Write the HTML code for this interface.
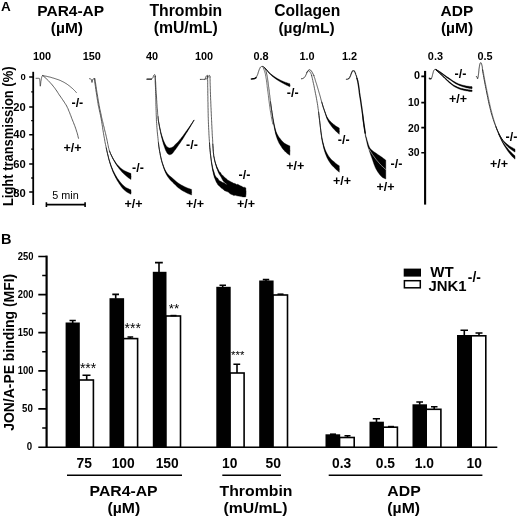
<!DOCTYPE html>
<html>
<head>
<meta charset="utf-8">
<title>Figure</title>
<style>
html,body{margin:0;padding:0;background:#fff;}
svg{display:block;will-change:transform;opacity:0.999;}
text{font-family:"Liberation Sans",Arial,sans-serif;fill:#000;}
.b{font-weight:bold;}
.h{font-weight:bold;font-size:15.5px;text-anchor:middle;}
.hb{font-size:14.8px;}
.s{font-weight:bold;font-size:10.9px;text-anchor:middle;}
.t{font-weight:bold;font-size:10.5px;text-anchor:end;}
.g{font-weight:bold;font-size:12.5px;text-anchor:middle;}
.x{font-weight:bold;font-size:13.8px;text-anchor:middle;}
.y{font-weight:bold;font-size:10.5px;text-anchor:end;}
.st{font-size:11px;text-anchor:middle;}
.ln{stroke:#000;fill:none;}
.c{stroke:#1a1a1a;stroke-width:0.9;fill:none;stroke-linejoin:round;stroke-linecap:round;}
.f{fill:#000;stroke:#000;stroke-width:0.6;stroke-linejoin:round;}
.wb{fill:#fff;stroke:#000;stroke-width:1.6;}
.kb{fill:#000;stroke:none;}
.e{stroke:#000;stroke-width:1.6;fill:none;}
</style>
</head>
<body>
<svg width="520" height="519" viewBox="0 0 520 519">
<rect x="0" y="0" width="520" height="519" fill="#fff"/>

<!-- ================= PANEL A ================= -->
<g id="panelA">
<text class="b" x="1" y="10.6" style="font-size:13.5px">A</text>

<text class="h" x="70.7" y="15.6">PAR4-AP</text>
<text class="h" x="66.9" y="33.1">(µM)</text>
<text class="h" x="185.8" y="15.7" style="font-size:16.1px" textLength="72.8" lengthAdjust="spacingAndGlyphs">Thrombin</text>
<text class="h" x="185.7" y="33.3" style="font-size:15.8px">(mU/mL)</text>
<text class="h" x="307.3" y="15.7" style="font-size:16.3px" textLength="66.1" lengthAdjust="spacingAndGlyphs">Collagen</text>
<text class="h" x="306.6" y="33.1">(µg/mL)</text>
<text class="h" x="456.9" y="15.5">ADP</text>
<text class="h" x="457" y="33">(µM)</text>

<text class="s" x="42" y="60.4">100</text>
<text class="s" x="91.8" y="60.4">150</text>
<text class="s" x="152" y="60.4">40</text>
<text class="s" x="204" y="60.4">100</text>
<text class="s" x="261" y="60.4">0.8</text>
<text class="s" x="307" y="60.4">1.0</text>
<text class="s" x="349.5" y="60.4">1.2</text>
<text class="s" x="435.4" y="60.4">0.3</text>
<text class="s" x="485" y="60.4">0.5</text>

<!-- left y axis -->
<text class="b" style="font-size:13.9px" text-anchor="middle" textLength="139.5" lengthAdjust="spacingAndGlyphs" transform="translate(12.5,136.3) rotate(-90)">Light transmission (%)</text>
<path class="ln" stroke-width="1.8" d="M33.2 71.8V205"/>
<path class="ln" stroke-width="1.5" d="M29.2 77.1H33.2M29.2 107.1H33.2M29.2 134.7H33.2M29.2 164H33.2M29.2 191.9H33.2"/>
<path class="ln" stroke-width="1.3" d="M31.2 91.8H33.2M31.2 120.7H33.2M31.2 149.2H33.2M31.2 178H33.2"/>
<text class="t" x="25.7" y="79.9" style="font-size:9.5px">0</text>
<text class="t" x="25.8" y="111.3" style="font-size:11.2px">20</text>
<text class="t" x="25.8" y="138" style="font-size:11.2px">40</text>
<text class="t" x="25.8" y="168.4" style="font-size:11.2px">60</text>
<text class="t" x="25.8" y="196.7" style="font-size:11.2px">80</text>

<!-- scale bar -->
<path class="ln" stroke-width="1.6" d="M46 204.6H85.5M46.4 202.2V207M85.1 202.2V207"/>
<text x="65.5" y="198.6" style="font-size:10.8px" text-anchor="middle">5 min</text>

<path d="M36 78.3L37.1 78.3L38 78.3L38.7 78.3L39.2 78.3L39.5 78.6L39.7 79.5L39.8 80.3L39.9 81.2L40 82.2L40 83.2L40.1 84.2L40.1 85L40.2 85.7L40.3 86.1L40.3 86.2L40.4 85.9L40.5 85.2L40.6 84.4L40.7 83.4L40.8 82.4L40.9 81.4L41.1 80.6L41.2 79.9L41.3 79.1L41.4 78.3L41.6 77.6L41.8 76.9L42.2 76.2L42.7 75.6" fill="none" stroke="#2a2a2a" stroke-width="0.75" stroke-linejoin="round" stroke-linecap="round"/>
<path d="M42.7 75.6L43.5 75.7L44.2 75.9L45 76L45.8 76.2L46.6 76.3L47.3 76.5L48.1 76.7L48.9 76.9L49.6 77L50.4 77.2L51.1 77.4L51.9 77.7L52.6 77.9L53.4 78.1L54.1 78.3L54.9 78.6L55.6 78.8L56.4 79.1L57.1 79.3L57.9 79.6L58.6 79.8L59.3 80.1L60.1 80.4L60.8 80.7L61.5 81.1L62.2 81.4L62.9 81.8L63.6 82.1L64.3 82.5L65 82.9L65.6 83.3L66.3 83.7L67 84.1L67.6 84.6L68.2 85.1L68.9 85.5L69.5 86L70.1 86.5L70.7 87L71.3 87.5L71.9 88L72.5 88.5L73.1 89.1L73.6 89.6L74.2 90.2L74.7 90.7L75.3 91.3L75.8 91.9L76.3 92.5" fill="none" stroke="#2a2a2a" stroke-width="0.75" stroke-linejoin="round" stroke-linecap="round"/>
<path d="M42.7 75.6L43.9 76.5L45 77.5L46.1 78.5L47.2 79.5L48.3 80.6L49.3 81.7L50.3 82.8L51.3 83.9L52.3 85L53.2 86.2L54.2 87.4L55.1 88.6L55.9 89.8L56.8 91L57.6 92.3L58.4 93.5L59.2 94.8L60.1 96L60.9 97.2L61.8 98.5L62.6 99.7L63.5 101L64.3 102.2L65.1 103.5L65.9 104.7L66.7 106L67.3 107.4L68 108.7L68.5 110.1L69.1 111.5L69.7 112.8L70.2 114.3L70.8 115.7L71.3 117.1L71.8 118.5L72.4 119.9L72.9 121.2L73.5 122.6L74 124L74.6 125.4L75.1 126.8L75.6 128.2L76.1 129.7L76.5 131.1L77 132.5L77.4 133.9L77.8 135.4L78.1 136.8L78.5 138.3" fill="none" stroke="#2a2a2a" stroke-width="0.75" stroke-linejoin="round" stroke-linecap="round"/>
<path d="M89.5 78.7L90.3 78.8L90.9 79L91.2 79.3L91.4 80.1L91.6 81L91.8 81.9L91.9 82.4L92.1 82.4L92.2 81.9L92.4 81L92.6 80.1L92.8 79.3L93.1 79L93.7 78.8L94.5 78.7" fill="none" stroke="#2a2a2a" stroke-width="0.75" stroke-linejoin="round" stroke-linecap="round"/>
<path d="M94.9 78.7L95.1 80.1L95.3 81.4L95.5 82.8L95.7 84.1L95.9 85.5L96.1 86.8L96.3 88.2L96.5 89.5L96.7 90.9L96.9 92.2L97.2 93.6L97.4 94.9L97.6 96.3L97.8 97.6L98 99L98.3 100.3L98.5 101.7L98.7 103L99 104.4L99.2 105.7L99.5 107L99.7 108.4L100 109.7L100.3 111.1L100.6 112.4L100.9 113.7L101.2 115.1L101.4 116.4L101.7 117.7L102 119.1L102.3 120.4L102.7 121.7L103 123.1L103.3 124.4L103.6 125.7L104 127L104.3 128.4L104.6 129.7L104.9 131L105.3 132.4L105.6 133.7L105.9 135L106.2 136.3L106.5 137.7L106.8 139L107.1 140.4L107.4 141.7L107.6 143.1L107.9 144.4L108.2 145.7L108.4 147.1L108.8 148.4L109.1 149.7L109.5 151L110 152.3L110.5 153.6L111.1 154.8L111.7 156L112.3 157.3L112.9 158.5L113.6 159.7L114.3 160.9L115 162L115.7 163.2L116.5 164.3L117.3 165.4L118.2 166.5L119 167.5L120 168.5L120.9 169.5L121.9 170.5L122.9 171.4L124 172.2L125.1 173L126.2 173.8L127.4 174.5L128.6 175.2L129.8 175.9L131 176.5" fill="none" stroke="#2a2a2a" stroke-width="0.75" stroke-linejoin="round" stroke-linecap="round"/><path d="M109.5 150.9L110 152.1L110.5 153.4L111.1 154.6L111.7 155.8L112.3 156.9L112.9 158.1L113.6 159.3L114.3 160.4L115 161.5L115.7 162.6L116.5 163.7L117.3 164.7L118.2 165.6L119 166.5L120 167.4L120.9 168.2L121.9 169L122.9 169.7L124 170.4L125.1 171L126.2 171.5L127.4 172.1L128.6 172.6L129.8 173.1L131 173.5L131 179.5L129.8 178.7L128.6 177.9L127.4 177L126.2 176.1L125.1 175.1L124 174.1L122.9 173L121.9 172L120.9 170.8L120 169.7L119 168.5L118.2 167.3L117.3 166.2L116.5 165L115.7 163.8L115 162.6L114.3 161.4L113.6 160.1L112.9 158.9L112.3 157.6L111.7 156.3L111.1 155L110.5 153.7L110 152.4L109.5 151.1Z" fill="#000" stroke="#000" stroke-width="0.35" stroke-linejoin="round"/>
<path d="M94.3 78.7L94.5 80.2L94.7 81.8L94.9 83.3L95.2 84.9L95.4 86.4L95.6 87.9L95.8 89.5L96 91L96.3 92.5L96.5 94.1L96.7 95.6L97 97.2L97.2 98.7L97.5 100.2L97.7 101.8L98 103.3L98.2 104.8L98.5 106.3L98.9 107.9L99.2 109.4L99.5 110.9L99.8 112.4L100.2 113.9L100.5 115.5L100.8 117L101.1 118.5L101.4 120L101.6 121.6L101.9 123.1L102.1 124.6L102.4 126.2L102.6 127.7L102.8 129.2L103.1 130.8L103.3 132.3L103.6 133.8L103.8 135.4L104.1 136.9L104.4 138.4L104.7 140L104.9 141.5L105.2 143L105.5 144.5L105.9 146.1L106.2 147.6L106.5 149.1L106.8 150.6L107.2 152.1L107.5 153.6L107.9 155.2L108.3 156.7L108.6 158.2L109 159.7L109.5 161.2L109.9 162.7L110.4 164.1L110.9 165.6L111.4 167.1L112 168.5L112.5 170L113.1 171.4L113.8 172.8L114.5 174.2L115.2 175.6L115.9 177L116.7 178.3L117.5 179.7L118.4 181L119.2 182.2L120.2 183.5L121.1 184.8L122.1 186L123.2 187.2L124.3 188.2L125.5 189.1L126.7 190L128.1 190.7L129.5 191.4L131 192" fill="none" stroke="#2a2a2a" stroke-width="0.75" stroke-linejoin="round" stroke-linecap="round"/><path d="M106.2 147.5L106.5 149L106.8 150.5L107.2 151.9L107.5 153.4L107.9 154.9L108.3 156.3L108.6 157.8L109 159.2L109.5 160.7L109.9 162.1L110.4 163.5L110.9 165L111.4 166.4L112 167.8L112.5 169.1L113.1 170.5L113.8 171.8L114.5 173.2L115.2 174.5L115.9 175.8L116.7 177.1L117.5 178.4L118.4 179.6L119.2 180.8L120.2 182L121.1 183.1L122.1 184.3L123.2 185.3L124.3 186.3L125.5 187.2L126.7 187.9L128.1 188.6L129.5 189.3L131 189.8L131 194.2L129.5 193.6L128.1 192.8L126.7 192L125.5 191.1L124.3 190.1L123.2 189L122.1 187.7L121.1 186.4L120.2 185L119.2 183.7L118.4 182.3L117.5 181L116.7 179.6L115.9 178.1L115.2 176.7L114.5 175.3L113.8 173.8L113.1 172.3L112.5 170.8L112 169.3L111.4 167.8L110.9 166.3L110.4 164.7L109.9 163.2L109.5 161.7L109 160.1L108.6 158.6L108.3 157L107.9 155.4L107.5 153.9L107.2 152.3L106.8 150.8L106.5 149.2L106.2 147.7Z" fill="#000" stroke="#000" stroke-width="0.35" stroke-linejoin="round"/>
<path d="M147 79.2L148.4 79.2L149.8 79.2L151.2 79.2" fill="none" stroke="#111" stroke-width="1.3" stroke-linejoin="round" stroke-linecap="round"/>
<path d="M151.2 79.2L151.5 79L151.8 78.8L152.1 78.6L152.3 78.4L152.6 78.1L152.8 77.9L152.9 77.6L153.1 77.3L153.2 76.9L153.3 76.6L153.4 76.3L153.5 75.9L153.7 75.6L153.8 75.3L154.1 75L154.4 74.7L154.6 74.6L154.7 74.6L154.9 74.8L155 75L155.2 75.4L155.2 75.9L155.3 76.5" fill="none" stroke="#2a2a2a" stroke-width="0.9" stroke-linejoin="round" stroke-linecap="round"/>
<path d="M155.3 76.5L155.4 77.6L155.4 78.7L155.5 79.7L155.5 80.8L155.6 81.9L155.7 83L155.7 84.1L155.8 85.1L155.8 86.2L155.9 87.3L156 88.4L156 89.5L156.1 90.5L156.2 91.6L156.2 92.7L156.3 93.8L156.4 94.9L156.4 96L156.5 97L156.6 98.1L156.6 99.2L156.7 100.3L156.8 101.4L156.8 102.4L156.9 103.5L157 104.6L157.1 105.7L157.1 106.8L157.2 107.9L157.3 108.9L157.4 110L157.5 111.1L157.6 112.2L157.6 113.2L157.7 114.3L157.8 115.4L158 116.5L158.1 117.5L158.2 118.6L158.3 119.7L158.4 120.8L158.6 121.8L158.8 122.9L159 124L159.2 125L159.4 126.1L159.6 127.2L159.8 128.2L160 129.3L160.3 130.3L160.5 131.4L160.7 132.5L161 133.5L161.2 134.6L161.5 135.6L161.8 136.7L162.1 137.7L162.4 138.7L162.7 139.8L163 140.8L163.3 141.8L163.7 142.9L164.1 143.9L164.5 144.9L164.9 145.9L165.3 146.9L165.8 147.9L166.4 148.9L167 149.8L167.7 150.5L168.7 151.1L169.7 151.4L170.7 151.2L171.8 150.7L172.6 150.2L173.4 149.4L174.1 148.5L174.8 147.7L175.5 146.9L176.2 146L176.9 145.2L177.6 144.4L178.3 143.5L178.9 142.7L179.6 141.8L180.3 141L180.9 140.1L181.5 139.2L182.2 138.3L182.8 137.4L183.4 136.6L184 135.7L184.6 134.8L185.2 133.9L185.8 133L186.4 132.1L187 131.2L187.6 130.3L188.2 129.4L188.8 128.4L189.4 127.5L190 126.6L190.6 125.7L191.1 124.8L191.7 123.9L192.3 123L192.9 122L193.4 121.1L194 120.2" fill="none" stroke="#2a2a2a" stroke-width="0.75" stroke-linejoin="round" stroke-linecap="round"/><path d="M158 116.3L158.1 117.4L158.2 118.5L158.3 119.5L158.4 120.6L158.6 121.6L158.8 122.6L159 123.6L159.2 124.6L159.4 125.6L159.6 126.6L159.8 127.6L160 128.6L160.3 129.6L160.5 130.6L160.7 131.5L161 132.5L161.2 133.5L161.5 134.4L161.8 135.4L162.1 136.3L162.4 137.2L162.7 138.2L163 139.1L163.3 140L163.7 140.9L164.1 141.7L164.5 142.6L164.9 143.4L165.3 144.3L165.8 145.1L166.4 145.9L167 146.7L167.7 147.2L168.7 147.7L169.7 148L170.7 147.8L171.8 147.5L172.6 147.1L173.4 146.4L174.1 145.7L174.8 145L175.5 144.3L176.2 143.6L176.9 142.9L177.6 142.2L178.3 141.5L178.9 140.7L179.6 140L180.3 139.2L180.9 138.4L181.5 137.6L182.2 136.8L182.8 136L183.4 135.2L184 134.3L184.6 133.5L185.2 132.7L185.8 131.8L186.4 131L187 130.2L187.6 129.3L188.2 128.5L188.8 127.7L189.4 126.8L190 126L190.6 125.1L191.1 124.3L191.7 123.5L192.3 122.6L192.9 121.8L193.4 120.9L194 120L194 120.4L193.4 121.3L192.9 122.3L192.3 123.3L191.7 124.3L191.1 125.3L190.6 126.3L190 127.3L189.4 128.3L188.8 129.2L188.2 130.2L187.6 131.2L187 132.2L186.4 133.1L185.8 134.1L185.2 135.1L184.6 136L184 137L183.4 138L182.8 138.9L182.2 139.9L181.5 140.8L180.9 141.8L180.3 142.7L179.6 143.7L178.9 144.6L178.3 145.6L177.6 146.5L176.9 147.5L176.2 148.4L175.5 149.4L174.8 150.3L174.1 151.3L173.4 152.3L172.6 153.3L171.8 154L170.7 154.5L169.7 154.8L168.7 154.4L167.7 153.7L167 152.9L166.4 151.8L165.8 150.7L165.3 149.5L164.9 148.4L164.5 147.2L164.1 146.1L163.7 144.9L163.3 143.7L163 142.6L162.7 141.4L162.4 140.3L162.1 139.1L161.8 137.9L161.5 136.8L161.2 135.6L161 134.5L160.7 133.4L160.5 132.2L160.3 131.1L160 130L159.8 128.8L159.6 127.7L159.4 126.6L159.2 125.4L159 124.3L158.8 123.2L158.6 122.1L158.4 121L158.3 119.9L158.2 118.8L158.1 117.7L158 116.6Z" fill="#000" stroke="#000" stroke-width="0.35" stroke-linejoin="round"/>
<path d="M155 76.5L155.1 78.4L155.2 80.3L155.2 82.1L155.3 84L155.4 85.9L155.5 87.8L155.5 89.7L155.6 91.6L155.6 93.5L155.7 95.3L155.8 97.2L155.8 99.1L155.9 101L155.9 102.9L155.9 104.8L156 106.6L156 108.5L156.1 110.4L156.2 112.3L156.2 114.2L156.3 116.1L156.4 117.9L156.4 119.8L156.5 121.7L156.7 123.6L156.8 125.5L156.9 127.4L157.1 129.2L157.2 131.1L157.4 133L157.6 134.9L157.8 136.7L158 138.6L158.2 140.5L158.4 142.4L158.6 144.2L158.8 146.1L159.1 148L159.4 149.8L159.7 151.7L160.1 153.6L160.4 155.4L160.8 157.2L161.2 159.1L161.7 160.9L162.2 162.7L162.8 164.5L163.4 166.3L164 168.1L164.7 169.8L165.5 171.6L166.4 173.3L167.4 174.8L168.5 176.3L169.8 177.7L171.2 179L172.6 180.3L174 181.6L175.4 182.9L176.8 184.2L178.2 185.4L179.7 186.4L181.3 187.4L182.9 188.4L184.6 189.2L186.3 190.1L188 190.9L189.8 191.6L191.6 192.2" fill="none" stroke="#2a2a2a" stroke-width="0.75" stroke-linejoin="round" stroke-linecap="round"/><path d="M158.4 142.3L158.6 144.1L158.8 146L159.1 147.8L159.4 149.6L159.7 151.5L160.1 153.3L160.4 155.1L160.8 156.9L161.2 158.6L161.7 160.4L162.2 162.2L162.8 163.9L163.4 165.6L164 167.2L164.7 168.9L165.5 170.5L166.4 172L167.4 173.5L168.5 174.7L169.8 175.9L171.2 177.1L172.6 178.3L174 179.5L175.4 180.7L176.8 181.9L178.2 183L179.7 184L181.3 185L182.9 185.8L184.6 186.7L186.3 187.4L188 188.2L189.8 188.8L191.6 189.4L191.6 195L189.8 194.3L188 193.6L186.3 192.7L184.6 191.8L182.9 190.9L181.3 189.9L179.7 188.8L178.2 187.7L176.8 186.4L175.4 185.1L174 183.7L172.6 182.3L171.2 180.9L169.8 179.4L168.5 177.8L167.4 176.2L166.4 174.5L165.5 172.7L164.7 170.8L164 168.9L163.4 167.1L162.8 165.2L162.2 163.3L161.7 161.4L161.2 159.5L160.8 157.6L160.4 155.7L160.1 153.8L159.7 151.9L159.4 150L159.1 148.1L158.8 146.3L158.6 144.4L158.4 142.5Z" fill="#000" stroke="#000" stroke-width="0.35" stroke-linejoin="round"/>
<path d="M200.3 79.4L201 79.4L201.7 79.4L202.3 79.4L202.8 79.4L203.4 79.4L203.8 79.4L204.3 79.4L204.7 79.4L205 79.1L205.4 78.5L205.6 77.9L205.8 77.4L206 76.9L206.2 76.3L206.5 75.9L206.9 75.5L207.3 75.3L207.5 75.7L207.6 76.5" fill="none" stroke="#2a2a2a" stroke-width="0.9" stroke-linejoin="round" stroke-linecap="round"/>
<path d="M204.8 79.2L205.5 79.1L206.2 79L206.8 78.7L207.2 78.5L207.6 78.1L207.8 77.5L208 76.8L208.3 76.2L208.7 75.7L209.3 75.4L209.6 75.5L209.9 76.1L210 77" fill="none" stroke="#2a2a2a" stroke-width="0.75" stroke-linejoin="round" stroke-linecap="round"/>
<path d="M210 77L210 78.5L210.1 79.9L210.1 81.4L210.1 82.8L210.2 84.3L210.2 85.7L210.3 87.2L210.3 88.7L210.3 90.1L210.4 91.6L210.4 93L210.5 94.5L210.5 96L210.6 97.4L210.6 98.9L210.7 100.3L210.8 101.8L210.8 103.2L210.9 104.7L210.9 106.2L211 107.6L211.1 109.1L211.1 110.5L211.2 112L211.3 113.4L211.3 114.9L211.4 116.4L211.5 117.8L211.5 119.3L211.6 120.7L211.7 122.2L211.7 123.6L211.8 125.1L211.9 126.6L211.9 128L212 129.5L212.1 130.9L212.2 132.4L212.2 133.8L212.3 135.3L212.4 136.8L212.5 138.2L212.6 139.7L212.7 141.1L212.7 142.6L212.8 144L212.9 145.5L213 147L213.1 148.4L213.2 149.9L213.3 151.3L213.4 152.8L213.6 154.2L213.7 155.7L214 157.1L214.3 158.5L214.6 160L214.9 161.4L215.3 162.8L215.7 164.2L216.2 165.6L216.6 167L217.2 168.3L217.8 169.7L218.4 171L219.1 172.3L219.8 173.6L220.6 174.8L221.4 176L222.3 177.2L223.2 178.3L224.2 179.4L225.2 180.4L226.3 181.3L227.5 182.2L228.7 183.1L229.9 183.9L231.2 184.6L232.5 185.3L233.7 186L235.1 186.7L236.4 187.3L237.7 187.9L239.1 188.4L240.4 189L241.8 189.5L243.1 190L244.5 190.5L245.9 191" fill="none" stroke="#2a2a2a" stroke-width="0.75" stroke-linejoin="round" stroke-linecap="round"/><path d="M212.8 143.9L212.9 145.4L213 146.8L213.1 148.2L213.2 149.7L213.3 151.1L213.4 152.5L213.6 154L213.7 155.4L214 156.8L214.3 158.1L214.6 159.4L214.9 160.8L215.3 162.1L215.7 163.5L216.2 164.6L216.6 166L217.2 167.2L217.8 168.6L218.4 169.7L219.1 171.2L219.8 172.2L220.6 172.6L221.4 174.3L222.3 174.9L223.2 175.9L224.2 176.8L225.2 177.9L226.3 178.6L227.5 179.9L228.7 180.6L229.9 181.2L231.2 181.9L232.5 182.6L233.7 183.3L235.1 183.5L236.4 184.5L237.7 184.3L239.1 185.1L240.4 185.8L241.8 186.3L243.1 187.3L244.5 187.2L245.9 187.9L245.9 193.5L244.5 193.7L243.1 193L241.8 192.9L240.4 191.7L239.1 191.6L237.7 190.9L236.4 190.2L235.1 189.6L233.7 189.5L232.5 188.8L231.2 187.4L229.9 186.5L228.7 186.4L227.5 185.3L226.3 183.8L225.2 182.9L224.2 182L223.2 181L222.3 179.6L221.4 177.7L220.6 176.3L219.8 175L219.1 174.1L218.4 172.5L217.8 171.1L217.2 169.2L216.6 168.2L216.2 166.5L215.7 164.9L215.3 163.4L214.9 162.1L214.6 160.4L214.3 159L214 157.5L213.7 156L213.6 154.4L213.4 153L213.3 151.5L213.2 150.1L213.1 148.6L213 147.1L212.9 145.7L212.8 144.2Z" fill="#000" stroke="#000" stroke-width="0.35" stroke-linejoin="round"/>
<path d="M207.6 76.5L207.6 78L207.6 79.6L207.7 81.1L207.7 82.7L207.7 84.2L207.7 85.8L207.7 87.3L207.8 88.9L207.8 90.4L207.8 92L207.8 93.5L207.8 95.1L207.9 96.6L207.9 98.2L207.9 99.7L207.9 101.3L208 102.8L208 104.3L208 105.9L208 107.4L208.1 109L208.1 110.5L208.1 112.1L208.2 113.6L208.2 115.2L208.2 116.7L208.3 118.3L208.3 119.8L208.4 121.4L208.4 122.9L208.5 124.5L208.6 126L208.6 127.5L208.7 129.1L208.8 130.6L208.9 132.2L208.9 133.7L209 135.3L209.1 136.8L209.2 138.4L209.3 139.9L209.4 141.4L209.5 143L209.6 144.5L209.7 146.1L209.8 147.6L210 149.2L210.1 150.7L210.3 152.2L210.4 153.8L210.6 155.3L210.8 156.9L211 158.4L211.2 159.9L211.4 161.5L211.6 163L211.9 164.5L212.1 166.1L212.4 167.6L212.7 169.1L213 170.6L213.4 172.1L213.8 173.6L214.3 175.1L214.8 176.5L215.4 177.9L216.2 179.3L217 180.7L218 181.8L219 182.9L220.2 183.8L221.5 184.8L222.8 185.6L224.2 186.5L225.5 187.3L226.8 188.1L228.2 188.9L229.5 189.6L230.9 190.3L232.4 190.9L233.8 191.4L235.3 191.9L236.8 192.3L238.3 192.7L239.8 193.1L241.3 193.3L242.8 193.6L244.4 193.8L245.9 194" fill="none" stroke="#2a2a2a" stroke-width="0.75" stroke-linejoin="round" stroke-linecap="round"/><path d="M209.5 142.8L209.6 144.4L209.7 145.9L209.8 147.4L210 148.9L210.1 150.4L210.3 151.9L210.4 153.4L210.6 155L210.8 156.5L211 158L211.2 159.5L211.4 160.9L211.6 162L211.9 163.5L212.1 164.8L212.4 166.3L212.7 167.6L213 168.8L213.4 170L213.8 171.2L214.3 172.6L214.8 174.7L215.4 175.7L216.2 177.2L217 177.8L218 178.6L219 180.4L220.2 181.1L221.5 181.7L222.8 182.6L224.2 182.8L225.5 184L226.8 184.4L228.2 185.3L229.5 185.9L230.9 186.2L232.4 186.7L233.8 188.2L235.3 187.9L236.8 189L238.3 189.7L239.8 189.7L241.3 190L242.8 189.8L244.4 190.8L245.9 191.5L245.9 196.8L244.4 197L242.8 196.9L241.3 196.6L239.8 196.3L238.3 196.1L236.8 195.8L235.3 195.2L233.8 195.6L232.4 194.8L230.9 194.2L229.5 193.3L228.2 192.1L226.8 191.6L225.5 191.1L224.2 190.4L222.8 189L221.5 188.2L220.2 186.9L219 185.8L218 185.1L217 183.3L216.2 182L215.4 179.9L214.8 178.6L214.3 177.4L213.8 175.5L213.4 173.9L213 171.8L212.7 170.8L212.4 168.9L212.1 167.3L211.9 165.4L211.6 163.9L211.4 162.3L211.2 160.4L211 159L210.8 157.3L210.6 155.7L210.4 154.2L210.3 152.5L210.1 150.9L210 149.4L209.8 147.8L209.7 146.3L209.6 144.7L209.5 143.1Z" fill="#000" stroke="#000" stroke-width="0.35" stroke-linejoin="round"/>
<path d="M251.4 78.9L252.1 78.9L252.8 78.8L253.5 78.8L254.2 78.7L254.8 78.4L255.4 78.1L256 77.6" fill="none" stroke="#000" stroke-width="1.5" stroke-linejoin="round" stroke-linecap="round"/>
<path d="M256 77.6L256.2 77.3L256.3 77.1L256.5 76.8L256.6 76.5L256.8 76.3L256.9 76L257.1 75.7L257.2 75.4L257.3 75.2L257.4 74.9L257.6 74.6L257.7 74.3L257.8 74L257.9 73.7L258 73.4L258.1 73.2L258.2 72.9L258.2 72.6L258.3 72.3L258.4 72L258.5 71.7L258.6 71.4L258.7 71.1L258.8 70.8L258.9 70.5L259 70.2L259.1 69.9L259.2 69.6L259.4 69.4L259.5 69.1L259.6 68.8L259.7 68.5L259.9 68.3L260 68L260.2 67.7L260.3 67.4L260.5 67.2L260.7 67L261 66.8L261.2 66.6L261.5 66.5L261.8 66.4L262.1 66.4L262.4 66.4L262.8 66.5L263.1 66.6L263.3 66.6L263.6 66.8L263.8 67L264.1 67.2L264.3 67.4L264.5 67.6L264.8 67.8L265 68L265.2 68.3L265.4 68.5L265.6 68.7L265.8 69L266 69.2" fill="none" stroke="#2a2a2a" stroke-width="0.9" stroke-linejoin="round" stroke-linecap="round"/>
<path d="M264.5 67.6L264.9 68.1L265.4 68.5L265.8 69L266.2 69.5L266.7 70L267.1 70.5L267.5 71L267.9 71.5L268.3 71.9L268.7 72.4L269.2 72.9L269.6 73.3L270.1 73.7L270.6 74.2L271 74.6L271.5 75L272 75.4L272.5 75.8L273 76.2L273.5 76.6L274.1 77L274.6 77.4L275.1 77.8L275.6 78.1L276.2 78.5L276.7 78.8L277.2 79.2L277.8 79.5L278.3 79.8L278.9 80.1L279.4 80.5L280 80.8L280.6 81.1L281.1 81.4L281.7 81.7L282.3 81.9L282.9 82.2L283.4 82.5L284 82.8L284.6 83L285.2 83.3L285.8 83.6L286.3 83.8L286.9 84.1L287.5 84.3L288.1 84.6L288.7 84.8L289.3 85.1L289.9 85.3" fill="none" stroke="#2a2a2a" stroke-width="0.75" stroke-linejoin="round" stroke-linecap="round"/><path d="M264.5 67.4L264.9 67.9L265.4 68.3L265.8 68.8L266.2 69.2L266.7 69.7L267.1 70.1L267.5 70.6L267.9 71.1L268.3 71.5L268.7 72L269.2 72.4L269.6 72.8L270.1 73.2L270.6 73.7L271 74.1L271.5 74.5L272 74.9L272.5 75.2L273 75.6L273.5 76L274.1 76.4L274.6 76.7L275.1 77.1L275.6 77.4L276.2 77.8L276.7 78.1L277.2 78.4L277.8 78.7L278.3 79L278.9 79.3L279.4 79.6L280 79.9L280.6 80.2L281.1 80.4L281.7 80.7L282.3 81L282.9 81.2L283.4 81.5L284 81.7L284.6 81.9L285.2 82.2L285.8 82.4L286.3 82.6L286.9 82.8L287.5 83L288.1 83.2L288.7 83.4L289.3 83.6L289.9 83.8L289.9 86.8L289.3 86.5L288.7 86.2L288.1 85.9L287.5 85.6L286.9 85.4L286.3 85.1L285.8 84.8L285.2 84.5L284.6 84.2L284 83.8L283.4 83.5L282.9 83.2L282.3 82.9L281.7 82.6L281.1 82.3L280.6 82L280 81.6L279.4 81.3L278.9 81L278.3 80.6L277.8 80.3L277.2 79.9L276.7 79.6L276.2 79.2L275.6 78.8L275.1 78.4L274.6 78.1L274.1 77.7L273.5 77.3L273 76.8L272.5 76.4L272 76L271.5 75.6L271 75.1L270.6 74.7L270.1 74.2L269.6 73.8L269.2 73.3L268.7 72.8L268.3 72.3L267.9 71.8L267.5 71.3L267.1 70.8L266.7 70.3L266.2 69.7L265.8 69.2L265.4 68.7L264.9 68.2L264.5 67.8Z" fill="#000" stroke="#000" stroke-width="0.35" stroke-linejoin="round"/>
<path d="M263.6 66.8L264.3 67.7L265 68.7L265.5 69.7L265.9 70.7L266.2 71.8L266.5 73L266.7 74.1L267 75.2L267.2 76.4L267.4 77.5L267.6 78.6L267.7 79.8L267.9 80.9L268 82L268.2 83.2L268.3 84.3L268.5 85.5L268.6 86.6L268.8 87.7L268.9 88.9L269.1 90L269.2 91.2L269.3 92.3L269.5 93.4L269.6 94.6L269.8 95.7L269.9 96.9L270 98L270.2 99.1L270.3 100.3L270.4 101.4L270.6 102.6L270.7 103.7L270.9 104.8L271 106L271.2 107.1L271.4 108.3L271.5 109.4L271.7 110.5L271.9 111.7L272 112.8L272.2 113.9L272.4 115.1L272.6 116.2L272.7 117.3L272.9 118.5L273.1 119.6L273.3 120.8L273.5 121.9L273.7 123L273.9 124.2L274.1 125.3L274.3 126.4L274.6 127.5L274.8 128.7L275.1 129.8L275.3 130.9L275.6 132L275.9 133.1L276.3 134.2L276.7 135.3L277.1 136.4L277.6 137.4L278.1 138.4L278.6 139.4L279.2 140.4L279.9 141.4L280.5 142.3L281.2 143.3L281.9 144.2L282.6 145.1L283.4 146L284.2 146.8L285 147.5L285.9 148.2L286.8 148.9L287.8 149.5L288.8 150.1L289.9 150.6" fill="none" stroke="#2a2a2a" stroke-width="0.75" stroke-linejoin="round" stroke-linecap="round"/><path d="M270.4 101.3L270.6 102.4L270.7 103.6L270.9 104.7L271 105.8L271.2 106.9L271.4 108L271.5 109.1L271.7 110.2L271.9 111.3L272 112.4L272.2 113.5L272.4 114.6L272.6 115.7L272.7 116.8L272.9 117.8L273.1 118.9L273.3 120L273.5 121L273.7 122L273.9 123.1L274.1 124.1L274.3 125.1L274.6 126.1L274.8 127.1L275.1 128.1L275.3 129.1L275.6 130.1L275.9 131.1L276.3 132.1L276.7 133L277.1 133.9L277.6 134.8L278.1 135.7L278.6 136.6L279.2 137.5L279.9 138.3L280.5 139.1L281.2 140L281.9 140.8L282.6 141.6L283.4 142.3L284.2 143L285 143.6L285.9 144.1L286.8 144.6L287.8 145.1L288.8 145.5L289.9 145.9L289.9 155.3L288.8 154.6L287.8 153.9L286.8 153.1L285.9 152.3L285 151.4L284.2 150.6L283.4 149.7L282.6 148.7L281.9 147.7L281.2 146.6L280.5 145.5L279.9 144.5L279.2 143.4L278.6 142.2L278.1 141.1L277.6 139.9L277.1 138.8L276.7 137.6L276.3 136.3L275.9 135.1L275.6 133.9L275.3 132.7L275.1 131.4L274.8 130.2L274.6 129L274.3 127.7L274.1 126.5L273.9 125.2L273.7 124L273.5 122.8L273.3 121.5L273.1 120.3L272.9 119.1L272.7 117.9L272.6 116.7L272.4 115.6L272.2 114.4L272 113.2L271.9 112L271.7 110.8L271.5 109.7L271.4 108.5L271.2 107.3L271 106.2L270.9 105L270.7 103.8L270.6 102.7L270.4 101.5Z" fill="#000" stroke="#000" stroke-width="0.35" stroke-linejoin="round"/>
<path d="M262.4 66.4L263.2 67.7L263.8 69.1L264.3 70.5L264.8 71.9L265.2 73.4L265.5 74.8L265.8 76.3L266 77.8L266.3 79.3L266.5 80.8L266.7 82.3L266.9 83.8L267.1 85.3L267.2 86.8L267.4 88.3L267.6 89.8L267.8 91.3L268 92.7L268.2 94.2L268.4 95.7L268.5 97.2L268.7 98.7L268.9 100.2L269.1 101.7L269.3 103.2L269.5 104.7L269.7 106.2L269.9 107.7L270.1 109.2L270.3 110.7L270.6 112.2L270.8 113.6L271.1 115.1L271.3 116.6L271.6 118.1L271.9 119.6L272.2 121.1L272.5 122.5L272.8 124" fill="none" stroke="#2a2a2a" stroke-width="0.65" stroke-linejoin="round" stroke-linecap="round"/>
<path d="M301.4 78.8L302.1 78.7L302.8 78.5L303.4 78.2L304 77.9L304.4 77.4L304.9 76.8L305.3 76.2L305.6 75.6L305.9 75L306.2 74.4L306.5 73.7L306.8 73.1L307.1 72.4L307.4 71.8L307.7 71.1L308.1 70.6L308.6 70.2L309.2 69.8L309.9 69.7L310.5 70.1L311 70.6L311.4 71.1L311.8 71.7L312.2 72.3L312.5 72.9L312.8 73.5L313.2 74.2L313.5 74.8L313.8 75.4" fill="none" stroke="#2a2a2a" stroke-width="0.9" stroke-linejoin="round" stroke-linecap="round"/>
<path d="M313.8 75.4L314.1 76.4L314.4 77.4L314.8 78.4L315.1 79.5L315.4 80.5L315.7 81.5L316 82.5L316.4 83.5L316.7 84.5L317 85.6L317.3 86.6L317.6 87.6L317.9 88.6L318.2 89.6L318.5 90.6L318.8 91.7L319.1 92.7L319.4 93.7L319.7 94.7L320 95.8L320.3 96.8L320.6 97.8L320.8 98.8L321.1 99.9L321.4 100.9L321.7 101.9L322 102.9L322.3 104L322.6 105L322.9 106L323.2 107L323.5 108L323.9 109L324.2 110L324.6 111.1L324.9 112.1L325.3 113.1L325.6 114.1L326 115.1L326.3 116.1L326.7 117.1L327.1 118.1L327.6 119L328.1 119.9L328.7 120.8L329.3 121.7L330 122.6L330.6 123.4L331.3 124.2L332 125L332.8 125.8L333.5 126.5L334.3 127.2L335.1 127.9L335.9 128.6L336.7 129.3L337.6 130L338.4 130.6L339.3 131.2" fill="none" stroke="#2a2a2a" stroke-width="0.75" stroke-linejoin="round" stroke-linecap="round"/><path d="M321.7 101.8L322 102.8L322.3 103.8L322.6 104.8L322.9 105.8L323.2 106.8L323.5 107.8L323.9 108.7L324.2 109.7L324.6 110.7L324.9 111.6L325.3 112.5L325.6 113.5L326 114.4L326.3 115.3L326.7 116.2L327.1 117L327.6 117.8L328.1 118.6L328.7 119.4L329.3 120.2L330 120.9L330.6 121.6L331.3 122.3L332 123L332.8 123.6L333.5 124.3L334.3 124.8L335.1 125.4L335.9 126L336.7 126.6L337.6 127.1L338.4 127.6L339.3 128.1L339.3 134.3L338.4 133.6L337.6 132.8L336.7 132L335.9 131.2L335.1 130.4L334.3 129.6L333.5 128.8L332.8 127.9L332 127L331.3 126.1L330.6 125.1L330 124.2L329.3 123.2L328.7 122.2L328.1 121.2L327.6 120.1L327.1 119.1L326.7 118L326.3 116.9L326 115.8L325.6 114.7L325.3 113.6L324.9 112.5L324.6 111.5L324.2 110.4L323.9 109.3L323.5 108.3L323.2 107.2L322.9 106.2L322.6 105.2L322.3 104.1L322 103.1L321.7 102Z" fill="#000" stroke="#000" stroke-width="0.35" stroke-linejoin="round"/>
<path d="M306.6 72.8L306.8 72.2L307.2 71.7L307.5 71.3L308 71L308.6 70.8L309.1 70.9L309.5 71.3L309.9 71.8L310.2 72.3L310.5 72.7L310.8 73.2L311 73.7L311.3 74.3L311.4 74.8L311.6 75.4" fill="none" stroke="#2a2a2a" stroke-width="0.75" stroke-linejoin="round" stroke-linecap="round"/>
<path d="M311.6 75.4L312 77.1L312.4 78.7L312.8 80.4L313.1 82L313.5 83.7L313.9 85.3L314.2 87L314.5 88.7L314.9 90.3L315.2 92L315.5 93.7L315.9 95.3L316.2 97L316.5 98.7L316.8 100.3L317.1 102L317.4 103.7L317.7 105.4L317.9 107L318.1 108.7L318.4 110.4L318.6 112.1L318.8 113.8L319 115.5L319.2 117.2L319.4 118.8L319.6 120.5L319.8 122.2L320 123.9L320.2 125.6L320.4 127.3L320.6 129L320.8 130.7L321 132.3L321.2 134L321.5 135.7L321.7 137.4L322 139L322.3 140.7L322.7 142.4L323.1 144L323.5 145.7L323.9 147.3L324.4 148.9L324.9 150.6L325.5 152.2L326.2 153.7L326.9 155.3L327.7 156.8L328.5 158.2L329.5 159.7L330.5 161L331.6 162.3L332.8 163.5L334.1 164.7L335.3 165.8L336.6 166.9L337.9 168L339.3 169" fill="none" stroke="#2a2a2a" stroke-width="0.75" stroke-linejoin="round" stroke-linecap="round"/><path d="M318.6 112L318.8 113.6L319 115.3L319.2 116.9L319.4 118.5L319.6 120.2L319.8 121.8L320 123.4L320.2 125.1L320.4 126.7L320.6 128.3L320.8 129.9L321 131.5L321.2 133.2L321.5 134.8L321.7 136.4L322 138L322.3 139.5L322.7 141.1L323.1 142.7L323.5 144.2L323.9 145.8L324.4 147.3L324.9 148.8L325.5 150.3L326.2 151.8L326.9 153.2L327.7 154.6L328.5 156L329.5 157.3L330.5 158.5L331.6 159.7L332.8 160.8L334.1 161.8L335.3 162.9L336.6 163.9L337.9 164.9L339.3 165.8L339.3 172.2L337.9 171.1L336.6 169.9L335.3 168.7L334.1 167.5L332.8 166.2L331.6 164.9L330.5 163.5L329.5 162.1L328.5 160.5L327.7 159L326.9 157.4L326.2 155.7L325.5 154L324.9 152.3L324.4 150.6L323.9 148.9L323.5 147.2L323.1 145.4L322.7 143.6L322.3 141.9L322 140.1L321.7 138.4L321.5 136.6L321.2 134.9L321 133.1L320.8 131.4L320.6 129.6L320.4 127.9L320.2 126.1L320 124.4L319.8 122.6L319.6 120.9L319.4 119.1L319.2 117.4L319 115.7L318.8 113.9L318.6 112.2Z" fill="#000" stroke="#000" stroke-width="0.35" stroke-linejoin="round"/>
<path d="M346.3 79.3L347.1 79.2L347.8 79L348.4 78.8L348.9 78.3L349.4 77.8L349.8 77.2L350.1 76.5L350.4 75.9L350.7 75.2L350.9 74.5L351.2 73.8L351.5 73.1L351.7 72.5L352 71.8L352.5 71.2L353 70.7L353.6 70.7L354.3 71.1L354.7 71.7L355 72.3L355.3 73L355.6 73.7L355.8 74.4L356 75L356.3 75.7L356.5 76.4L356.7 77.1L356.8 77.8L357 78.5" fill="none" stroke="#2a2a2a" stroke-width="1.1" stroke-linejoin="round" stroke-linecap="round"/>
<path d="M357 78.5L357.4 79.9L357.8 81.2L358 82.6L358.3 84L358.5 85.4L358.7 86.8L358.9 88.2L359.1 89.6L359.3 91L359.4 92.4L359.6 93.8L359.8 95.2L360 96.6L360.3 98L360.5 99.4L360.7 100.8L360.9 102.2L361.1 103.6L361.3 105L361.5 106.4L361.7 107.8L361.9 109.2L362.1 110.6L362.3 112.1L362.5 113.5L362.7 114.9L362.9 116.3L363.1 117.7L363.2 119.1L363.4 120.5L363.6 121.9L363.8 123.3L364 124.7L364.2 126.1L364.4 127.5L364.6 128.9L364.8 130.3L365 131.7L365.2 133.1" fill="none" stroke="#111" stroke-width="1.4" stroke-linejoin="round" stroke-linecap="round"/>
<path d="M362.5 114L362.6 115.4L362.8 116.8L362.9 118.2L363.1 119.6L363.3 121L363.5 122.4L363.7 123.8L363.9 125.2L364.1 126.6L364.4 128L364.6 129.4L364.9 130.8L365.1 132.1L365.4 133.5L365.7 134.9L366 136.3L366.4 137.6L366.8 139L367.2 140.4L367.6 141.7L368 143.1L368.4 144.5L368.9 145.8L369.4 147.1L370.1 148.3L371 149.3L372 150.3L373.2 151.2L374.3 152L375.5 152.8L376.6 153.6L377.8 154.4L379 155.2L380.2 156L381.3 156.8L382.4 157.6L383.6 158.5L384.7 159.3L385.8 160.2L385.8 179L384.1 178.3L382.5 177.4L381.2 176.3L380 175L378.9 173.5L377.8 172L376.9 170.5L376 168.9L375.2 167.3L374.5 165.6L373.9 164L373.3 162.2L372.7 160.5L372.1 158.8L371.5 157.1L370.9 155.4L370.3 153.7L369.7 152L369.2 150.3L368.6 148.6L368 146.9L367.5 145.2L367.1 143.4L366.7 141.7L366.3 139.9L365.9 138.2L365.5 136.4L365.2 134.6L364.9 132.8L364.6 131.1L364.3 129.3L364 127.5L363.8 125.7L363.5 124L363.3 122.2L363.1 120.4L362.9 118.6L362.7 116.8L362.5 115Z" fill="#000" stroke="#000" stroke-width="0.35" stroke-linejoin="round"/>
<path d="M369 149C373 156 379 164 385.8 169.6" fill="none" stroke="#fff" stroke-width="0.5"/>
<path d="M429.3 78.2L429.6 78.6L429.9 78.8L430.2 78.9L430.6 78.8L431 78.6" fill="none" stroke="#222" stroke-width="1.4" stroke-linejoin="round" stroke-linecap="round"/>
<path d="M431 78.6L431.2 78.3L431.4 78.1L431.6 77.8L431.7 77.6L431.9 77.3L432 77L432.1 76.7L432.2 76.4L432.3 76.1L432.3 75.8L432.4 75.5L432.5 75.2L432.5 74.8L432.6 74.5L432.7 74.2L432.8 73.9L432.9 73.6L432.9 73.3L433 73L433.1 72.7L433.2 72.4L433.2 72.1L433.3 71.8L433.4 71.5L433.5 71.2L433.6 70.9L433.8 70.6L433.9 70.3L434.1 70L434.3 69.8L434.6 69.6L434.8 69.4L435.1 69.4L435.5 69.5L435.8 69.6L436 69.7L436.3 69.9L436.6 70.1L436.8 70.3" fill="none" stroke="#2a2a2a" stroke-width="0.9" stroke-linejoin="round" stroke-linecap="round"/>
<path d="M435.9 69.6L436.6 70L437.3 70.4L438.1 70.9L438.8 71.3L439.5 71.8L440.2 72.2L440.8 72.7L441.5 73.2L442.2 73.7L442.9 74.2L443.5 74.7L444.2 75.2L444.9 75.7L445.6 76.2L446.2 76.7L446.9 77.2L447.6 77.7L448.3 78.1L449 78.6L449.7 79.1L450.4 79.6L451.1 80L451.7 80.5L452.4 81L453.1 81.4L453.8 81.9L454.6 82.4L455.3 82.8L456 83.2L456.7 83.6L457.5 84L458.2 84.3L459 84.6L459.8 85L460.6 85.3L461.4 85.5L462.2 85.8L463 86L463.8 86.2L464.6 86.4L465.4 86.6L466.2 86.8L467 87L467.8 87.1L468.7 87.3L469.5 87.4L470.3 87.5L471.2 87.6L472 87.7" fill="none" stroke="#2a2a2a" stroke-width="0.75" stroke-linejoin="round" stroke-linecap="round"/><path d="M435.9 69.3L436.6 69.7L437.3 70.1L438.1 70.5L438.8 70.9L439.5 71.4L440.2 71.8L440.8 72.3L441.5 72.8L442.2 73.3L442.9 73.8L443.5 74.2L444.2 74.7L444.9 75.2L445.6 75.7L446.2 76.2L446.9 76.7L447.6 77.1L448.3 77.6L449 78.1L449.7 78.6L450.4 79L451.1 79.5L451.7 79.9L452.4 80.4L453.1 80.9L453.8 81.3L454.6 81.8L455.3 82.2L456 82.6L456.7 83L457.5 83.3L458.2 83.7L459 84L459.8 84.2L460.6 84.5L461.4 84.8L462.2 85L463 85.2L463.8 85.4L464.6 85.6L465.4 85.7L466.2 85.9L467 86L467.8 86.2L468.7 86.3L469.5 86.4L470.3 86.5L471.2 86.5L472 86.6L472 88.8L471.2 88.7L470.3 88.6L469.5 88.4L468.7 88.3L467.8 88.1L467 87.9L466.2 87.7L465.4 87.5L464.6 87.3L463.8 87.1L463 86.8L462.2 86.6L461.4 86.3L460.6 86L459.8 85.7L459 85.3L458.2 85L457.5 84.6L456.7 84.3L456 83.9L455.3 83.4L454.6 83L453.8 82.5L453.1 82L452.4 81.5L451.7 81.1L451.1 80.6L450.4 80.1L449.7 79.6L449 79.2L448.3 78.7L447.6 78.2L446.9 77.7L446.2 77.2L445.6 76.7L444.9 76.2L444.2 75.7L443.5 75.2L442.9 74.7L442.2 74.2L441.5 73.7L440.8 73.2L440.2 72.7L439.5 72.2L438.8 71.7L438.1 71.2L437.3 70.8L436.6 70.3L435.9 69.9Z" fill="#000" stroke="#000" stroke-width="0.35" stroke-linejoin="round"/>
<path d="M435.9 69.8L436.6 70.4L437.2 71L437.9 71.5L438.5 72.1L439.2 72.7L439.8 73.3L440.5 73.9L441.1 74.5L441.7 75.1L442.4 75.7L443 76.3L443.7 76.9L444.3 77.5L444.9 78.1L445.6 78.7L446.2 79.3L446.8 79.9L447.5 80.6L448.1 81.2L448.8 81.7L449.4 82.3L450.1 82.9L450.8 83.4L451.5 84L452.2 84.5L452.9 85.1L453.6 85.6L454.3 86L455.1 86.4L455.9 86.8L456.7 87.2L457.5 87.6L458.3 87.9L459.1 88.3L459.9 88.6L460.8 88.8L461.6 89.1L462.5 89.3L463.3 89.5L464.2 89.7L465 89.9L465.9 90L466.7 90.2L467.6 90.3L468.5 90.5L469.3 90.6L470.2 90.7L471.1 90.7L472 90.8" fill="none" stroke="#2a2a2a" stroke-width="0.75" stroke-linejoin="round" stroke-linecap="round"/><path d="M435.9 69.5L436.6 70.1L437.2 70.6L437.9 71.2L438.5 71.7L439.2 72.3L439.8 72.9L440.5 73.5L441.1 74.1L441.7 74.7L442.4 75.3L443 75.9L443.7 76.4L444.3 77L444.9 77.6L445.6 78.2L446.2 78.8L446.8 79.4L447.5 80L448.1 80.6L448.8 81.2L449.4 81.8L450.1 82.3L450.8 82.9L451.5 83.4L452.2 84L452.9 84.5L453.6 85L454.3 85.4L455.1 85.8L455.9 86.2L456.7 86.6L457.5 87L458.3 87.3L459.1 87.6L459.9 87.9L460.8 88.2L461.6 88.4L462.5 88.6L463.3 88.8L464.2 88.9L465 89.1L465.9 89.3L466.7 89.4L467.6 89.6L468.5 89.7L469.3 89.8L470.2 89.9L471.1 89.9L472 90L472 91.6L471.1 91.6L470.2 91.5L469.3 91.4L468.5 91.3L467.6 91.1L466.7 90.9L465.9 90.8L465 90.6L464.2 90.4L463.3 90.2L462.5 90L461.6 89.8L460.8 89.5L459.9 89.2L459.1 88.9L458.3 88.6L457.5 88.2L456.7 87.8L455.9 87.4L455.1 87L454.3 86.6L453.6 86.2L452.9 85.6L452.2 85.1L451.5 84.6L450.8 84L450.1 83.4L449.4 82.9L448.8 82.3L448.1 81.7L447.5 81.1L446.8 80.5L446.2 79.9L445.6 79.2L444.9 78.6L444.3 78L443.7 77.4L443 76.8L442.4 76.2L441.7 75.6L441.1 74.9L440.5 74.3L439.8 73.7L439.2 73.1L438.5 72.5L437.9 71.9L437.2 71.3L436.6 70.7L435.9 70.1Z" fill="#000" stroke="#000" stroke-width="0.35" stroke-linejoin="round"/>
<path d="M476.2 76.3L476.7 76.8L477.1 77.4L477.3 78.2L477.5 78.8L477.7 78.6L477.8 78L478 77.2L478.2 76.3L478.3 75.5L478.4 74.8L478.5 74.1L478.6 73.4L478.7 72.7L478.7 72L478.8 71.3L478.9 70.6L478.9 69.9L479 69.2L479.1 68.5L479.2 67.9L479.3 67.2L479.4 66.5L479.5 65.8L479.6 65.1L479.8 64.4L480 63.7L480.3 63L480.7 62.6L481.2 63.1L481.5 63.8L481.7 64.4L481.9 65.1L482 65.7L482.2 66.4L482.3 67.1L482.4 67.8L482.4 68.5L482.5 69.2L482.5 70" fill="none" stroke="#2a2a2a" stroke-width="0.9" stroke-linejoin="round" stroke-linecap="round"/>
<path d="M482.5 70L482.8 71.9L483.1 73.7L483.5 75.6L483.8 77.4L484.1 79.2L484.5 81.1L484.8 82.9L485.2 84.8L485.5 86.6L485.9 88.5L486.3 90.3L486.6 92.1L487 94L487.4 95.8L487.8 97.7L488.1 99.5L488.5 101.3L488.9 103.2L489.3 105L489.8 106.8L490.2 108.7L490.7 110.5L491.1 112.3L491.6 114.1L492.2 115.9L492.7 117.7L493.3 119.5L493.9 121.3L494.5 123.1L495.2 124.8L495.8 126.6L496.5 128.3L497.3 130L498.1 131.7L498.9 133.4L499.7 135.1L500.6 136.7L501.5 138.4L502.5 140" fill="none" stroke="#333" stroke-width="1.0" stroke-linejoin="round" stroke-linecap="round"/>
<path d="M499 134L499.3 134.7L499.7 135.5L500.1 136.2L500.5 136.9L500.9 137.6L501.3 138.3L501.8 139L502.2 139.6L502.7 140.3L503.2 140.9L503.7 141.5L504.2 142.1L504.8 142.8L505.3 143.4L505.9 143.9L506.5 144.5L507.1 145.1L507.7 145.6L508.3 146.1L508.9 146.6L509.5 147.1L510.2 147.6L510.8 148.1L511.5 148.5L512.2 149L512.9 149.4L513.6 149.8L514.3 150.2L515 150.6" fill="none" stroke="#2a2a2a" stroke-width="0.5" stroke-linejoin="round" stroke-linecap="round"/><path d="M499 133.8L499.3 134.6L499.7 135.3L500.1 136L500.5 136.6L500.9 137.3L501.3 137.9L501.8 138.6L502.2 139.2L502.7 139.8L503.2 140.4L503.7 141L504.2 141.5L504.8 142.1L505.3 142.6L505.9 143.1L506.5 143.6L507.1 144.1L507.7 144.6L508.3 145.1L508.9 145.5L509.5 146L510.2 146.4L510.8 146.8L511.5 147.2L512.2 147.6L512.9 148L513.6 148.4L514.3 148.8L515 149.1L515 152.1L514.3 151.7L513.6 151.2L512.9 150.8L512.2 150.3L511.5 149.8L510.8 149.3L510.2 148.8L509.5 148.3L508.9 147.8L508.3 147.2L507.7 146.6L507.1 146L506.5 145.4L505.9 144.8L505.3 144.1L504.8 143.4L504.2 142.8L503.7 142.1L503.2 141.4L502.7 140.7L502.2 140L501.8 139.3L501.3 138.6L500.9 137.9L500.5 137.2L500.1 136.4L499.7 135.7L499.3 134.9L499 134.2Z" fill="#000" stroke="#000" stroke-width="0.35" stroke-linejoin="round"/>
<path d="M483 70L483.3 71.6L483.6 73.2L483.8 74.7L484.1 76.3L484.4 77.9L484.7 79.5L485 81.1L485.3 82.6L485.6 84.2L486 85.8L486.3 87.4L486.6 88.9L486.9 90.5L487.2 92.1L487.6 93.7L487.9 95.2L488.2 96.8L488.5 98.4L488.9 100L489.2 101.5L489.6 103.1L489.9 104.7L490.3 106.2L490.6 107.8L491 109.4L491.4 110.9L491.8 112.5L492.2 114L492.6 115.6L493 117.1L493.5 118.7L493.9 120.2L494.4 121.8L494.9 123.3L495.4 124.9L495.9 126.4L496.4 127.9L496.9 129.4L497.5 130.9L498.1 132.4L498.7 133.9L499.3 135.4L500 136.9L500.7 138.3L501.4 139.8L502.1 141.2L502.9 142.6L503.7 143.9L504.6 145.3L505.5 146.7L506.4 148L507.4 149.3L508.3 150.5L509.3 151.8L510.4 153L511.5 154.1L512.6 155.3L513.8 156.4L515 157.5" fill="none" stroke="#444" stroke-width="0.6" stroke-linejoin="round" stroke-linecap="round"/><path d="M495.9 126.3L496.4 127.7L496.9 129.2L497.5 130.7L498.1 132.2L498.7 133.6L499.3 135L500 136.5L500.7 137.9L501.4 139.2L502.1 140.6L502.9 141.9L503.7 143.2L504.6 144.5L505.5 145.7L506.4 146.9L507.4 148.1L508.3 149.3L509.3 150.4L510.4 151.5L511.5 152.6L512.6 153.7L513.8 154.8L515 155.8L515 159.2L513.8 158L512.6 156.9L511.5 155.7L510.4 154.4L509.3 153.1L508.3 151.8L507.4 150.5L506.4 149.1L505.5 147.6L504.6 146.2L503.7 144.7L502.9 143.2L502.1 141.7L501.4 140.3L500.7 138.8L500 137.2L499.3 135.7L498.7 134.2L498.1 132.6L497.5 131.1L496.9 129.6L496.4 128L495.9 126.5Z" fill="#000" stroke="#000" stroke-width="0.35" stroke-linejoin="round"/>
<text class="g" x="77.4" y="107.1">-/-</text>
<text class="g" x="72.5" y="151.7">+/+</text>
<text class="g" x="138" y="171.8">-/-</text>
<text class="g" x="133.5" y="208.3">+/+</text>
<text class="g" x="192" y="148.8">-/-</text>
<text class="g" x="195" y="208.2">+/+</text>
<text class="g" x="244.5" y="178.8">-/-</text>
<text class="g" x="246" y="207.8">+/+</text>
<text class="g" x="292.7" y="96.5">-/-</text>
<text class="g" x="295.2" y="169.5">+/+</text>
<text class="g" x="343.7" y="144.4">-/-</text>
<text class="g" x="342" y="185.3">+/+</text>
<text class="g" x="396.5" y="167.8">-/-</text>
<text class="g" x="385.6" y="191.2">+/+</text>

<!-- right y axis -->
<path class="ln" stroke-width="2.1" d="M425.1 70.9V204.6"/>
<path class="ln" stroke-width="1.6" d="M421.3 76.4H425.1M421.3 102.6H425.1M421.3 127.6H425.1M421.3 152.8H425.1"/>
<text class="t" x="420" y="78.6" style="font-size:10.8px">0</text>
<text class="t" x="419.5" y="106.2" style="font-size:11.2px" textLength="11.6" lengthAdjust="spacingAndGlyphs">10</text>
<text class="t" x="419.5" y="131.7" style="font-size:11.2px" textLength="11.6" lengthAdjust="spacingAndGlyphs">20</text>
<text class="t" x="419.5" y="155.8" style="font-size:11.2px" textLength="11.6" lengthAdjust="spacingAndGlyphs">30</text>

<text class="g" x="460.5" y="78.3">-/-</text>
<text class="g" x="458" y="103.3">+/+</text>
<text class="g" x="511.5" y="140.8">-/-</text>
<text class="g" x="499" y="168.3">+/+</text>
</g>

<!-- ================= PANEL B ================= -->
<g id="panelB">
<text class="b" x="1" y="243.8" style="font-size:14.5px">B</text>

<text class="b" style="font-size:14.6px" text-anchor="middle" textLength="157" lengthAdjust="spacingAndGlyphs" transform="translate(13.7,352.3) rotate(-90)">JON/A-PE binding (MFI)</text>

<!-- axes -->
<path class="ln" stroke-width="2.2" d="M46.6 255.6V447.9"/>
<path class="ln" stroke-width="1.6" d="M38.3 447.2H497.3"/>
<path class="ln" stroke-width="1.7" d="M38.3 256.5H46.6M38.3 294.6H46.6M38.3 332.7H46.6M38.3 370.8H46.6M38.3 408.8H46.6"/>
<path class="ln" stroke-width="1.5" d="M42.2 275.5H46.6M42.2 313.6H46.6M42.2 351.7H46.6M42.2 389.8H46.6M42.2 427.9H46.6"/>
<text class="y" x="33.4" y="259.5" textLength="15.7" lengthAdjust="spacingAndGlyphs">250</text>
<text class="y" x="33.4" y="297.6" textLength="15.7" lengthAdjust="spacingAndGlyphs">200</text>
<text class="y" x="33.4" y="335.7" textLength="15.7" lengthAdjust="spacingAndGlyphs">150</text>
<text class="y" x="33.4" y="373.8" textLength="15.7" lengthAdjust="spacingAndGlyphs">100</text>
<text class="y" x="32.9" y="411.8" textLength="10.8" lengthAdjust="spacingAndGlyphs">50</text>
<text class="y" x="32.2" y="449.7" textLength="5.4" lengthAdjust="spacingAndGlyphs">0</text>

<!-- PAR4-AP bars -->
<rect class="wb" x="79.0" y="380" width="14.4" height="67.2"/>
<rect class="kb" x="65.6" y="322.5" width="14.2" height="125.0"/>
<path class="e" d="M72.7 323V320.5M69.5 320.5H75.8"/>

<path class="e" d="M86.7 380V375.3M82.5 375.3H90.5"/>
<text class="st" x="88.1" y="372.6" style="font-size:14px">***</text>

<rect class="wb" x="123.3" y="338.6" width="14.3" height="108.6"/>
<rect class="kb" x="109.5" y="298.2" width="14.6" height="149.3"/>
<path class="e" d="M115.7 298.7V294.4M112.3 294.4H119"/>

<path class="e" d="M130.3 338.6V337M127.5 337H133.2"/>
<text class="st" x="132.8" y="332.6" style="font-size:14px">***</text>

<rect class="wb" x="165.7" y="316" width="14.8" height="131.2"/>
<rect class="kb" x="152.8" y="271.8" width="13.7" height="175.7"/>
<path class="e" d="M159 272.3V262.6M155 262.6H162.8"/>

<path class="e" d="M170.5 315.6H176.5"/>
<text class="st" x="174" y="313.3" style="font-size:13.5px">**</text>

<!-- Thrombin bars -->
<rect class="wb" x="229.9" y="373" width="14.2" height="74.2"/>
<rect class="kb" x="216.3" y="286.8" width="14.4" height="160.7"/>
<path class="e" d="M222.7 287.3V285.2M219.5 285.2H226"/>

<path class="e" d="M237 373V364.3M233.4 364.3H240.2"/>
<text class="st" x="237.7" y="359" style="font-size:11.4px">***</text>

<rect class="wb" x="272.8" y="295" width="14.7" height="152.2"/>
<rect class="kb" x="259.2" y="280.5" width="14.4" height="167.0"/>
<path class="e" d="M266 281V279.6M262.8 279.6H269.2"/>

<path class="e" d="M277.5 294.2H283.5"/>

<!-- ADP bars -->
<rect class="wb" x="339.4" y="437.5" width="14.8" height="9.7"/>
<rect class="kb" x="325.5" y="434.3" width="14.7" height="13.2"/>
<path class="e" d="M330 434.2H336"/>

<path class="e" d="M347.5 437.5V435.8M344.5 435.8H350.5"/>

<rect class="wb" x="383.1" y="427.2" width="14.3" height="20.0"/>
<rect class="kb" x="369.5" y="421.7" width="14.4" height="25.8"/>
<path class="e" d="M376.5 422.2V418.8M372.8 418.8H380"/>

<path class="e" d="M388 426.6H394"/>

<rect class="wb" x="426.2" y="409.3" width="14.7" height="37.9"/>
<rect class="kb" x="412.5" y="404.3" width="14.5" height="43.2"/>
<path class="e" d="M419.7 404.8V402M416.3 402H423"/>

<path class="e" d="M434.2 409.3V406.8M431 406.8H437.5"/>

<rect class="wb" x="471.2" y="335.8" width="14.6" height="111.4"/>
<rect class="kb" x="457" y="335" width="15.0" height="112.5"/>
<path class="e" d="M464.3 335.5V330.2M460.5 330.2H468"/>

<path class="e" d="M479 335.8V333M475.5 333H482.5"/>

<!-- x labels -->
<text class="x" x="84.3" y="467.5">75</text>
<text class="x" x="123.2" y="467.5">100</text>
<text class="x" x="167.2" y="467.5">150</text>
<text class="x" x="229.7" y="467.5">10</text>
<text class="x" x="273.3" y="467.5">50</text>
<text class="x" x="341.6" y="467.5">0.3</text>
<text class="x" x="385.3" y="467.5">0.5</text>
<text class="x" x="424.3" y="467.5">1.0</text>
<text class="x" x="474.3" y="467.5">10</text>

<path class="ln" stroke-width="1.6" d="M67 475.2H182M222.3 475.2H281M328.7 475.2H482.4"/>

<text class="h hb" x="123.6" y="495.6" textLength="68.1" lengthAdjust="spacingAndGlyphs">PAR4-AP</text>
<text class="h hb" x="123.9" y="513.3" textLength="32.7" lengthAdjust="spacingAndGlyphs">(µM)</text>
<text class="h hb" x="256" y="495.6" textLength="72.9" lengthAdjust="spacingAndGlyphs">Thrombin</text>
<text class="h hb" x="255.5" y="513.3" textLength="64" lengthAdjust="spacingAndGlyphs">(mU/mL)</text>
<text class="h hb" x="404" y="495.7" textLength="33.4" lengthAdjust="spacingAndGlyphs">ADP</text>
<text class="h hb" x="403.7" y="513.4" textLength="32.7" lengthAdjust="spacingAndGlyphs">(µM)</text>

<!-- legend -->
<rect x="403.7" y="268.6" width="17.3" height="8" fill="#000"/>
<rect x="404.4" y="280.7" width="15.9" height="7.1" fill="#fff" stroke="#000" stroke-width="1.5"/>
<text class="b" x="430.3" y="276.8" style="font-size:15px">WT</text>
<text class="b" x="428.4" y="291.3" style="font-size:14.9px">JNK1</text>
<text class="b" x="467.8" y="281.9" style="font-size:13.8px">-/-</text>
</g>
</svg>
</body>
</html>
